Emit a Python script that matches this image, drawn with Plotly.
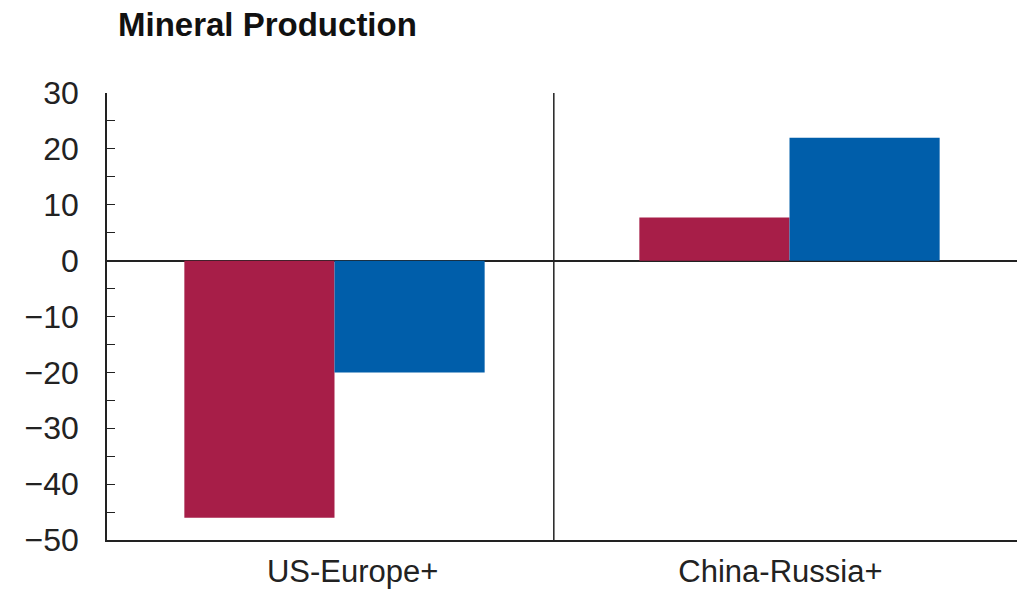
import plotly.graph_objects as go

categories = ["US-Europe+", "China-Russia+"]
series_a = [-46, 7.7]
series_b = [-20, 22]
y_ticks = [30, 20, 10, 0, -10, -20, -30, -40, -50]

RED = "#A71E48"
BLUE = "#005EAA"
FONT = "Liberation Sans, Arial, sans-serif"

fig = go.Figure()
fig.add_trace(go.Bar(x=[0, 1], y=series_a, marker=dict(color=RED, line_width=0), showlegend=False))
fig.add_trace(go.Bar(x=[0, 1], y=series_b, marker=dict(color=BLUE, line_width=0), showlegend=False))

# divider between the two category groups
fig.add_shape(type="line", xref="x", yref="y", x0=0.482, x1=0.482, y0=-50, y1=30,
              line=dict(color="#222222", width=1.5))

fig.update_layout(
    width=1022, height=590,
    margin=dict(l=107, r=5, t=93, b=50, autoexpand=False),
    paper_bgcolor="white", plot_bgcolor="white",
    barmode="group", bargap=0.34, bargroupgap=0,
    font=dict(family=FONT, color="#222222", size=30),
    title=dict(text="<b>Mineral Production</b>", xref="container", yref="container",
               x=118 / 1022, xanchor="left", y=1 - 24 / 590, yanchor="middle",
               font=dict(family=FONT, size=33, color="#111111")),
    xaxis=dict(range=[-0.5, 1.5], tickmode="array", tickvals=[0.04, 0.98], ticktext=categories,
               showline=True, linecolor="#222222", linewidth=1.5, ticks="",
               showgrid=False, zeroline=False, tickfont=dict(size=31), ticklabelstandoff=3,
               automargin=False),
    yaxis=dict(range=[-50, 30], tickmode="array", tickvals=y_ticks,
               showline=True, linecolor="#222222", linewidth=1.5,
               ticks="inside", ticklen=8, tickwidth=1.2, tickcolor="#222222",
               minor=dict(ticks="inside", dtick=5, ticklen=8, tickwidth=1.2, tickcolor="#222222", showgrid=False),
               showgrid=False, zeroline=True, zerolinecolor="#222222", zerolinewidth=1.5,
               tickfont=dict(size=32), ticklabelstandoff=20, automargin=False),
)

fig.write_html("out.html")
